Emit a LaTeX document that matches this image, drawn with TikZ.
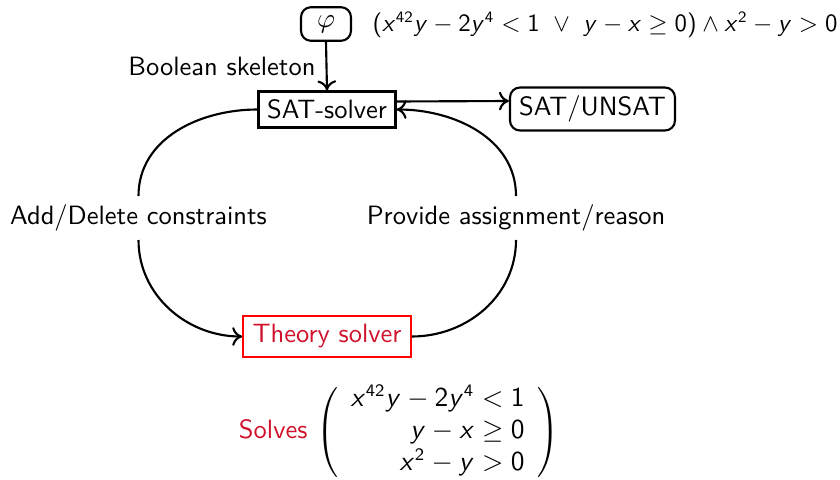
\documentclass[tikz,border=0pt]{standalone}
\usetikzlibrary{calc,arrows.meta}
\DeclareSymbolFont{sfit}{OT1}{cmss}{m}{sl}
\SetSymbolFont{operators}{normal}{OT1}{cmss}{m}{n}
\DeclareMathSymbol{x}{\mathalpha}{sfit}{`x}
\DeclareMathSymbol{y}{\mathalpha}{sfit}{`y}
\definecolor{alertc}{RGB}{208,18,44}
\begin{document}
\begin{tikzpicture}[x=0.4pt,y=-0.4pt,
  every node/.style={font=\fontsize{10.6}{12.7}\selectfont\sffamily},
  box/.style={draw,line width=0.85pt,inner sep=3.3pt},
  rbox/.style={box,rounded corners=4pt},
  conn/.style={line width=0.85pt},
  arr/.style={conn,-{To[length=4pt,width=7.5pt]}},
  lab/.style={inner sep=3.3pt}]
\useasboundingbox (0,0) rectangle (840,480);
\node[rbox,minimum width=20pt,minimum height=13pt] (phi) at (326,24) {$\varphi$};
\node[anchor=west,inner sep=0pt] (form) at (372,25) {\resizebox{186pt}{!}{$(x^{42}y-2y^4<1\ \vee\ y-x\geq 0)\wedge x^2-y>0$}};
\node[box,minimum width=54.8pt,minimum height=14pt] (sat) at (327,109.5) {SAT-solver};
\node[rbox,minimum width=66pt,minimum height=15.2pt] (res) at (592.5,109) {SAT/UNSAT};
\node[box,draw=red,text=alertc,minimum width=67pt,minimum height=16.4pt] (th) at (327,336.5) {Theory solver};
\node[lab] (add) at (138.5,218) {Add/Delete constraints};
\node[lab] (prov) at (516,218) {Provide assignment/reason};
\draw[arr] (phi.south) -- node[midway,left,inner sep=4pt] (bs) {Boolean skeleton} (sat.north);
\draw[arr] ($(sat.east)+(0,-8)$) -- ($(res.west)+(0,-8)$);
\draw[conn] (sat.west) to[out=180,in=90] (add.north);
\draw[arr] (add.south) to[out=-90,in=180] (th.west);
\draw[conn] (th.east) to[out=0,in=-90] (prov.south);
\draw[arr] (prov.north) to[out=90,in=0] (sat.east);
\node (sol) at (399,432) {\textcolor{alertc}{Solves} $\left(\begin{array}{r} x^{42}y-2y^4<1\\ y-x\geq 0\\ x^2-y>0\end{array}\right)$};
\end{tikzpicture}
\end{document}
